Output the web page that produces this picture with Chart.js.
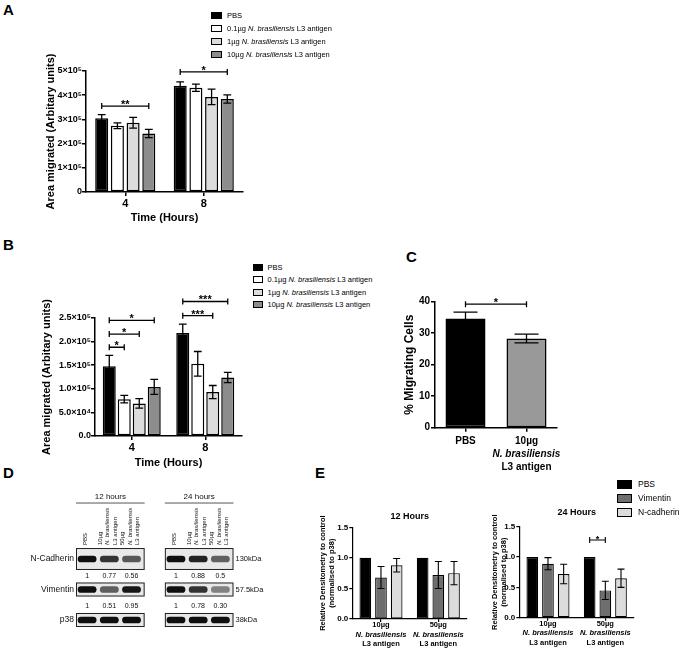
<!DOCTYPE html>
<html lang="en">
<head>
<meta charset="UTF-8">
<title>N. brasiliensis L3 antigen - cell migration</title>
<script src="https://cdn.jsdelivr.net/npm/chart.js"></script>
<style>
    body {
        margin: 0;
        background: #fff;
        font-family: "Liberation Sans", Arial, Helvetica, sans-serif;
        color: #000;
    }
    #page {
        position: relative;
        width: 685px;
        height: 652px;
        overflow: hidden;
    }
    canvas {
        position: absolute;
    }
    .letter {
        position: absolute;
        font-weight: bold;
        font-size: 15px;
        line-height: 15px;
    }
    .legend {
        position: absolute;
        z-index: 2;
    }
    .legend .row {
        position: absolute;
        left: 0;
        display: flex;
        align-items: center;
        white-space: nowrap;
        height: 10px;
    }
    .legend .sw {
        display: inline-block;
        box-sizing: border-box;
        border: 1px solid #000;
    }
</style>
</head>
<body>
<div id="page">
    <div class="letter" style="left:3px;top:2px">A</div>
    <div class="letter" style="left:3px;top:237px">B</div>
    <div class="letter" style="left:406px;top:249px">C</div>
    <div class="letter" style="left:3px;top:465px">D</div>
    <div class="letter" style="left:315px;top:465px">E</div>

    <div class="legend" id="legendA" style="left:211px;top:10px;font-size:7.5px"></div>
    <div class="legend" id="legendB" style="left:253px;top:262px;font-size:7.5px"></div>
    <div class="legend" id="legendE" style="left:617px;top:479px;font-size:8.5px"></div>

    <canvas id="chartA" width="250" height="190" style="left:0;top:40px"></canvas>
    <canvas id="chartB" width="250" height="185" style="left:0;top:290px"></canvas>
    <canvas id="chartC" width="185" height="190" style="left:380px;top:285px"></canvas>
    <canvas id="chartD" width="300" height="180" style="left:0;top:460px"></canvas>
    <canvas id="chartE12" width="165" height="150" style="left:310px;top:500px"></canvas>
    <canvas id="chartE24" width="165" height="150" style="left:480px;top:500px"></canvas>
</div>

<script>
const FONT = '"Liberation Sans", Arial, Helvetica, sans-serif';
const SPECIES = 'N. brasiliensis';

// ---- A / B : area migrated (scratch assay) ----
const hours = ['4', '8'];
const doses = ['PBS', '0.1µg', '1µg', '10µg'];
const doseColors = ['#000000', '#ffffff', '#dcdcdc', '#8c8c8c'];

const areaA_PBS = [3.05e5, 4.39e5];
const areaA_01  = [2.74e5, 4.31e5];
const areaA_1   = [2.86e5, 3.93e5];
const areaA_10  = [2.42e5, 3.84e5];
const semA_PBS  = [0.15e5, 0.16e5];
const semA_01   = [0.12e5, 0.15e5];
const semA_1    = [0.22e5, 0.32e5];
const semA_10   = [0.17e5, 0.17e5];
const sigA = [
    {from: [0, 0], to: [3, 0], y: 3.55e5, mark: '**'},
    {from: [0, 1], to: [3, 1], y: 4.96e5, mark: '*'}
];

const areaB_PBS = [1.48e5, 2.18e5];
const areaB_01  = [0.78e5, 1.53e5];
const areaB_1   = [0.69e5, 0.93e5];
const areaB_10  = [1.04e5, 1.24e5];
const semB_PBS  = [0.23e5, 0.19e5];
const semB_01   = [0.08e5, 0.26e5];
const semB_1    = [0.10e5, 0.14e5];
const semB_10   = [0.16e5, 0.11e5];
const sigB = [
    {from: [0, 0], to: [1, 0], y: 1.88e5, mark: '*'},
    {from: [0, 0], to: [2, 0], y: 2.16e5, mark: '*'},
    {from: [0, 0], to: [3, 0], y: 2.45e5, mark: '*'},
    {from: [0, 1], to: [2, 1], y: 2.55e5, mark: '***'},
    {from: [0, 1], to: [3, 1], y: 2.85e5, mark: '***'}
];

// ---- C : % migrating cells ----
const groupsC = [['PBS'], ['10µg', SPECIES, 'L3 antigen']];
const migratingC = [34.7, 28.3];
const semC = [2.0, 1.4];
const sigC = [{from: [0, 0], to: [0, 1], y: 39.2, mark: '*'}];

// ---- D : western blot lanes and densitometry ----
const lanesD = [
    ['PBS'], ['10µg', SPECIES, 'L3 antigen'], ['50µg', SPECIES, 'L3 antigen'],
    [],
    ['PBS'], ['10µg', SPECIES, 'L3 antigen'], ['50µg', SPECIES, 'L3 antigen']
];
const ncadD = ['1', '0.77', '0.56', null, '1', '0.88', '0.5'];
const vimD  = ['1', '0.51', '0.95', null, '1', '0.78', '0.30'];
const p38D  = ['1', '1', '1', null, '1', '1', '1'];
const proteinsD = ['N-Cadherin', 'Vimentin', 'p38'];
const sizesD = ['130kDa', '57.5kDa', '38kDa'];

// ---- E : densitometry relative to PBS ----
const dosesE = [['10µg', SPECIES, 'L3 antigen'], ['50µg', SPECIES, 'L3 antigen']];
const proteinsE = ['PBS', 'Vimentin', 'N-cadherin'];
const colorsE = ['#000000', '#6e6e6e', '#dcdcdc'];
const e12_PBS  = [1, 1];
const e12_Vim  = [0.68, 0.72];
const e12_Ncad = [0.88, 0.75];
const e12sem_Vim  = [0.18, 0.22];
const e12sem_Ncad = [0.11, 0.19];
const e24_PBS  = [1, 1];
const e24_Vim  = [0.89, 0.45];
const e24_Ncad = [0.72, 0.65];
const e24sem_Vim  = [0.10, 0.15];
const e24sem_Ncad = [0.16, 0.15];
const sigE24 = [{from: [0, 1], to: [1, 1], y: 1.28, mark: '*'}];

Chart.defaults.font.family = FONT;
Chart.defaults.color = '#000';

// error bars, significance brackets, multi-line category labels, panel titles
const gpExtras = {
    id: 'gpExtras',
    afterDatasetsDraw(chart, args, o) {
        const ctx = chart.ctx, ys = chart.scales.y;
        ctx.save();
        ctx.strokeStyle = '#000';
        ctx.lineWidth = o.lineWidth || 1.3;
        (o.errors || []).forEach((errs, d) => {
            if (!errs) return;
            const meta = chart.getDatasetMeta(d);
            const vals = chart.data.datasets[d].data;
            errs.forEach((e, i) => {
                if (!e) return;
                const bar = meta.data[i];
                const half = bar.width * 0.3;
                const top = ys.getPixelForValue(vals[i] + e);
                const bot = ys.getPixelForValue(vals[i] - e);
                ctx.beginPath();
                ctx.moveTo(bar.x, top); ctx.lineTo(bar.x, bot);
                ctx.moveTo(bar.x - half, top); ctx.lineTo(bar.x + half, top);
                ctx.moveTo(bar.x - half, bot); ctx.lineTo(bar.x + half, bot);
                ctx.stroke();
            });
        });
        ctx.fillStyle = '#000';
        ctx.textAlign = 'center';
        ctx.textBaseline = 'alphabetic';
        ctx.font = 'bold ' + (o.starSize || 11) + 'px ' + FONT;
        (o.brackets || []).forEach(b => {
            const xa = chart.getDatasetMeta(b.from[0]).data[b.from[1]].x;
            const xb = chart.getDatasetMeta(b.to[0]).data[b.to[1]].x;
            const y = ys.getPixelForValue(b.y);
            ctx.beginPath();
            ctx.moveTo(xa, y); ctx.lineTo(xb, y);
            ctx.moveTo(xa, y - 3); ctx.lineTo(xa, y + 3);
            ctx.moveTo(xb, y - 3); ctx.lineTo(xb, y + 3);
            ctx.stroke();
            ctx.fillText(b.mark, (xa + xb) / 2, y + 2);
        });
        ctx.restore();
    },
    afterDraw(chart, args, o) {
        const ctx = chart.ctx, area = chart.chartArea;
        ctx.save();
        ctx.fillStyle = '#000';
        ctx.textAlign = 'center';
        ctx.textBaseline = 'middle';
        if (o.xLabels) {
            const xs = chart.scales.x;
            o.xLabels.forEach((lines, i) => {
                const x = xs.getPixelForValue(i);
                lines.forEach((t, j) => {
                    ctx.font = (t === SPECIES ? 'italic ' : '') + 'bold ' + o.xSize + 'px ' + FONT;
                    ctx.fillText(t, x, area.bottom + o.xFirst + j * o.xGap);
                });
            });
        }
        if (o.title) {
            ctx.font = 'bold ' + o.title.size + 'px ' + FONT;
            ctx.fillText(o.title.text, (area.left + area.right) / 2, area.top - o.title.gap);
        }
        ctx.restore();
    }
};

function barPanel(id, o) {
    return new Chart(document.getElementById(id), {
        type: 'bar',
        data: {
            labels: o.labels,
            datasets: o.series.map((s, i) => ({
                data: s,
                backgroundColor: o.colors[i],
                borderColor: '#000',
                borderWidth: o.bw || 1.5,
                borderSkipped: false,
                categoryPercentage: o.cat,
                barPercentage: o.bar
            }))
        },
        options: {
            responsive: false,
            animation: false,
            devicePixelRatio: 1,
            layout: {padding: o.pad},
            plugins: {
                legend: {display: false},
                tooltip: {enabled: false},
                gpExtras: o.extras
            },
            scales: {
                x: {
                    grid: {display: true, drawOnChartArea: false, drawTicks: true, tickLength: o.tl, color: '#000', lineWidth: o.axisW || 1.5, offset: false},
                    border: {display: true, color: '#000', width: o.axisW || 1.5},
                    ticks: {display: !!o.xTicks, color: '#000', font: {weight: 'bold', size: 11}, padding: 1, maxRotation: 0, autoSkip: false},
                    title: o.xTitle
                        ? {display: true, text: o.xTitle, color: '#000', font: {weight: 'bold', size: 11}, padding: {top: 0, bottom: o.xTitlePad}}
                        : {display: false},
                    afterFit: s => { s.height = o.xH; }
                },
                y: {
                    min: 0,
                    max: o.yMax,
                    ticks: {stepSize: o.yStep, callback: o.yFmt, color: '#000', font: {weight: 'bold', size: o.yFont}, padding: o.yPad == null ? 2 : o.yPad},
                    grid: {display: true, drawOnChartArea: false, drawTicks: true, tickLength: o.tl, color: '#000', lineWidth: o.axisW || 1.5},
                    border: {display: true, color: '#000', width: o.axisW || 1.5},
                    title: {display: true, text: o.yTitle, color: '#000', font: {weight: 'bold', size: o.yTitleSize}, padding: {top: o.yTitlePad, bottom: 0}},
                    afterFit: s => { s.width = o.yW; }
                }
            }
        },
        plugins: [gpExtras]
    });
}

function buildLegend(id, names, colors, w, h, gap, rowGap) {
    const el = document.getElementById(id);
    names.forEach((n, i) => {
        const row = document.createElement('div');
        row.className = 'row';
        row.style.top = (i * rowGap) + 'px';
        row.innerHTML = '<span class="sw" style="width:' + w + 'px;height:' + h + 'px;margin-right:' + gap +
            'px;background:' + colors[i] + '"></span><span>' + n + '</span>';
        el.appendChild(row);
    });
}

const doseLegend = doses.map(d => d === 'PBS' ? d : d + ' <i>' + SPECIES + '</i> L3 antigen');
buildLegend('legendA', doseLegend, doseColors, 11, 7, 5, 13.3);
buildLegend('legendB', doseLegend, doseColors, 10, 7, 4.5, 12.5);
buildLegend('legendE', proteinsE, colorsE, 15, 9, 6, 14);

const fmtA = v => v === 0 ? '0' : Math.round(v / 1e5) + '×10⁵';
const fmtB = v => v === 0 ? '0.0' : (v < 1e5 ? (v / 1e4).toFixed(1) + '×10⁴' : (v / 1e5).toFixed(1) + '×10⁵');

barPanel('chartA', {
    labels: hours,
    series: [areaA_PBS, areaA_01, areaA_1, areaA_10],
    colors: doseColors,
    cat: 0.8, bar: 0.83,
    pad: {left: 0, right: 7, top: 31, bottom: 0},
    tl: 4, xTicks: true, xH: 38, xTitle: 'Time (Hours)', xTitlePad: 5.4,
    yMax: 5e5, yStep: 1e5, yFmt: fmtA, yFont: 9, yPad: 0,
    yTitle: 'Area migrated (Arbitary units)', yTitleSize: 11, yTitlePad: 44.4, yW: 86,
    extras: {errors: [semA_PBS, semA_01, semA_1, semA_10], brackets: sigA}
});

barPanel('chartB', {
    labels: hours,
    series: [areaB_PBS, areaB_01, areaB_1, areaB_10],
    colors: doseColors,
    cat: 0.816, bar: 0.867,
    pad: {left: 0, right: 8, top: 28, bottom: 0},
    tl: 4, xTicks: true, xH: 39, xTitle: 'Time (Hours)', xTitlePad: 5.4,
    yMax: 2.5e5, yStep: 0.5e5, yFmt: fmtB, yFont: 9, yPad: 0,
    yTitle: 'Area migrated (Arbitary units)', yTitleSize: 11, yTitlePad: 40.4, yW: 95,
    extras: {errors: [semB_PBS, semB_01, semB_1, semB_10], brackets: sigB}
});

barPanel('chartC', {
    labels: groupsC.map(g => g.join(' ')),
    series: [migratingC],
    colors: [['#000000', '#999999']],
    cat: 0.8, bar: 0.82,
    pad: {left: 0, right: 8, top: 16.7, bottom: 0},
    tl: 4, xTicks: false, xH: 47.3,
    yMax: 40, yStep: 10, yFmt: v => String(v), yFont: 10, yPad: 1,
    yTitle: '% Migrating Cells', yTitleSize: 12, yTitlePad: 22, yW: 55,
    extras: {errors: [semC], brackets: sigC, xLabels: groupsC, xSize: 10, xFirst: 13.3, xGap: 13}
});

barPanel('chartE12', {
    labels: dosesE.map(g => g.join(' ')),
    series: [e12_PBS, e12_Vim, e12_Ncad],
    colors: colorsE,
    cat: 0.82, bar: 0.745, bw: 1.2, axisW: 1.2,
    pad: {left: 0, right: 8, top: 27.3, bottom: 0},
    tl: 3, xTicks: false, xH: 31,
    yMax: 1.5, yStep: 0.5, yFmt: v => v.toFixed(1), yFont: 8, yPad: 1,
    yTitle: ['Relative Densitometry to control', '(normalised to p38)'], yTitleSize: 7.5, yTitlePad: 8.2, yW: 42.3,
    extras: {errors: [null, e12sem_Vim, e12sem_Ncad], xLabels: dosesE, xSize: 7.5, xFirst: 6, xGap: 9.5,
             title: {text: '12 Hours', size: 9, gap: 10.6}, lineWidth: 1.1}
});

barPanel('chartE24', {
    labels: dosesE.map(g => g.join(' ')),
    series: [e24_PBS, e24_Vim, e24_Ncad],
    colors: colorsE,
    cat: 0.82, bar: 0.745, bw: 1.2, axisW: 1.2,
    pad: {left: 0, right: 11, top: 26.7, bottom: 0},
    tl: 3, xTicks: false, xH: 32.3,
    yMax: 1.5, yStep: 0.5, yFmt: v => v.toFixed(1), yFont: 8, yPad: 1,
    yTitle: ['Relative Densitometry to control', '(normalised to p38)'], yTitleSize: 7.5, yTitlePad: 10.5, yW: 39.3,
    extras: {errors: [null, e24sem_Vim, e24sem_Ncad], brackets: sigE24, starSize: 9, xLabels: dosesE, xSize: 7.5, xFirst: 6, xGap: 9.5,
             title: {text: '24 Hours', size: 9, gap: 14.4}, lineWidth: 1.1}
});

// ---- blot (D): bands are floating bars, one dataset per protein row ----
const blotText = {
    id: 'blotText',
    beforeDatasetsDraw(chart, args, o) {
        const ctx = chart.ctx, xs = chart.scales.x, ys = chart.scales.y;
        const half = (xs.getPixelForValue(1) - xs.getPixelForValue(0)) / 2;
        ctx.save();
        o.groups.forEach(g => {
            const x1 = xs.getPixelForValue(g.from) - half, x2 = xs.getPixelForValue(g.to) + half + 2;
            o.strips.forEach((h, k) => {
                const y1 = ys.getPixelForValue(k - h), y2 = ys.getPixelForValue(k + h);
                ctx.fillStyle = '#e8e8e8';
                ctx.fillRect(x1, y1, x2 - x1, y2 - y1);
                ctx.strokeStyle = '#222';
                ctx.lineWidth = 1;
                ctx.strokeRect(x1 + 0.5, y1 + 0.5, x2 - x1 - 1, y2 - y1 - 1);
            });
        });
        ctx.restore();
    },
    afterDraw(chart, args, o) {
        const ctx = chart.ctx, xs = chart.scales.x, ys = chart.scales.y;
        const half = (xs.getPixelForValue(1) - xs.getPixelForValue(0)) / 2;
        const stripTop = ys.getPixelForValue(-o.strips[0]);
        ctx.save();
        ctx.fillStyle = '#111';
        ctx.strokeStyle = '#555';
        ctx.lineWidth = 1;
        // time headers with rule
        o.groups.forEach(g => {
            const x1 = xs.getPixelForValue(g.from) - half, x2 = xs.getPixelForValue(g.to) + half + 2;
            ctx.beginPath();
            ctx.moveTo(x1, stripTop - 45); ctx.lineTo(x2, stripTop - 45);
            ctx.stroke();
            ctx.font = '8px ' + FONT;
            ctx.textAlign = 'center';
            ctx.textBaseline = 'middle';
            ctx.fillText(g.label, (x1 + x2) / 2, stripTop - 51);
        });
        // rotated lane labels
        ctx.textAlign = 'left';
        ctx.textBaseline = 'middle';
        o.lanes.forEach((lines, i) => {
            const cx = xs.getPixelForValue(i);
            lines.forEach((t, j) => {
                ctx.font = (t === SPECIES ? 'italic ' : '') + '6px ' + FONT;
                ctx.save();
                ctx.translate(cx + (j - (lines.length - 1) / 2) * 7.5 - 1.5, stripTop - 3);
                ctx.rotate(-Math.PI / 2);
                ctx.fillText(t, 0, 0);
                ctx.restore();
            });
        });
        // protein names and sizes
        const leftEdge = xs.getPixelForValue(0) - half;
        const rightEdge = xs.getPixelForValue(o.lanes.length - 1) + half + 2;
        o.rows.forEach((name, k) => {
            const y = ys.getPixelForValue(k);
            ctx.font = '8.5px ' + FONT;
            ctx.textAlign = 'right';
            ctx.fillText(name, leftEdge - 2, y);
            ctx.font = '7.5px ' + FONT;
            ctx.textAlign = 'left';
            ctx.fillText(o.sizes[k], rightEdge + 2, y);
        });
        // densitometry values under the first two rows
        ctx.font = '7px ' + FONT;
        ctx.textAlign = 'center';
        o.numbers.forEach((vals, k) => {
            const y = ys.getPixelForValue(k + 0.55);
            vals.forEach((v, i) => {
                if (v != null) ctx.fillText(v, xs.getPixelForValue(i), y);
            });
        });
        ctx.restore();
    }
};

new Chart(document.getElementById('chartD'), {
    type: 'bar',
    data: {
        labels: lanesD.map(l => l.join(' ')),
        datasets: [ncadD, vimD, p38D].map((vals, k) => ({
            data: vals.map(v => v == null ? null : [k - 0.11, k + 0.11]),
            backgroundColor: vals.map(v => v == null ? 'rgba(0,0,0,0)' : 'rgba(15,15,15,' + (0.25 + 0.75 * parseFloat(v)) + ')'),
            borderWidth: 0,
            borderRadius: 4,
            borderSkipped: false,
            grouped: false,
            categoryPercentage: 1,
            barPercentage: 0.85
        }))
    },
    options: {
        responsive: false,
        animation: false,
        devicePixelRatio: 1,
        layout: {padding: {left: 76, right: 68.5, top: 83.75, bottom: 4.75}},
        plugins: {
            legend: {display: false},
            tooltip: {enabled: false},
            blotText: {
                groups: [{from: 0, to: 2, label: '12 hours'}, {from: 4, to: 6, label: '24 hours'}],
                strips: [0.36, 0.23, 0.23],
                lanes: lanesD,
                rows: proteinsD,
                sizes: sizesD,
                numbers: [ncadD, vimD]
            }
        },
        scales: {
            x: {display: false},
            y: {display: false, min: -0.5, max: 2.5, reverse: true}
        }
    },
    plugins: [blotText]
});
</script>
</body>
</html>
